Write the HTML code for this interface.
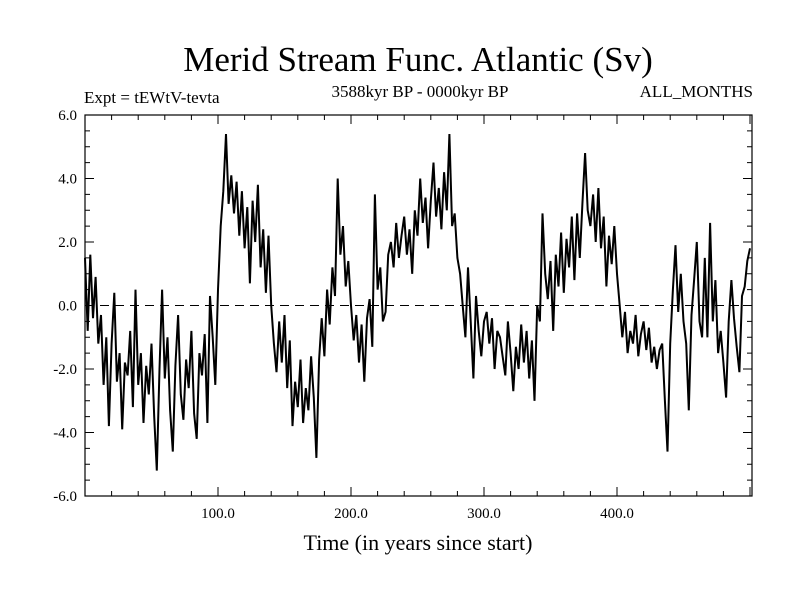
<!DOCTYPE html>
<html><head><meta charset="utf-8"><style>
body{margin:0;background:#fff}
svg text{font-family:"Liberation Serif",serif;fill:#000}
</style></head><body>
<svg id="chart" width="800" height="600" xmlns="http://www.w3.org/2000/svg">
<rect width="800" height="600" fill="#fff"/>
<text x="418" y="71" font-size="35" text-anchor="middle">Merid Stream Func. Atlantic (Sv)</text>
<text x="84" y="103" font-size="17">Expt = tEWtV-tevta</text>
<text x="420" y="97" font-size="17" text-anchor="middle">3588kyr BP - 0000kyr BP</text>
<text x="753" y="97" font-size="17" text-anchor="end">ALL_MONTHS</text>
<text x="418" y="550" font-size="22" text-anchor="middle">Time (in years since start)</text>
<g id="axes"></g>
<g id="plot"></g>
</svg>
<script>
const yTicks=[-6,-4,-2,0,2,4,6];
const yTickLabels=["-6.0","-4.0","-2.0","0.0","2.0","4.0","6.0"];
const xTicks=[100,200,300,400];
const xTickLabels=["100.0","200.0","300.0","400.0"];
const years=[];
const values=[
1.5,-0.8,1.6,-0.4,0.9,-1.2,-0.3,-2.5,-1.0,-3.8,
-1.2,0.4,-2.4,-1.5,-3.9,-1.8,-2.2,-0.8,-3.2,0.5,
-2.5,-1.5,-3.7,-1.9,-2.8,-1.2,-3.5,-5.2,-2.0,0.5,
-2.3,-1.0,-3.3,-4.6,-1.9,-0.3,-2.8,-3.6,-1.7,-2.6,
-0.8,-3.4,-4.2,-1.5,-2.2,-0.9,-3.7,0.3,-1.0,-2.5,
0.5,2.5,3.6,5.4,3.2,4.1,2.9,3.9,2.2,3.6,
1.8,3.1,0.7,3.3,2.0,3.8,1.2,2.4,0.4,2.2,
0.0,-1.2,-2.1,-0.5,-1.8,-0.3,-2.6,-1.1,-3.8,-2.4,
-3.2,-1.7,-3.7,-2.6,-3.3,-1.6,-2.9,-4.8,-1.7,-0.4,
-1.6,0.5,-0.6,1.2,0.3,4.0,1.6,2.5,0.6,1.4,
0.0,-1.1,-0.3,-1.8,-0.6,-2.4,-0.4,0.2,-1.3,3.5,
0.5,1.2,-0.5,-0.2,1.6,2.0,1.2,2.6,1.5,2.2,
2.8,1.6,2.4,1.0,3.0,2.2,4.0,2.6,3.4,1.8,
3.3,4.5,2.8,3.7,2.4,4.2,3.0,5.4,2.5,2.9,
1.5,1.0,0.0,-1.0,1.2,-0.5,-2.3,0.3,-0.8,-1.6,
-0.5,-0.2,-1.2,-0.4,-2.0,-0.8,-1.0,-1.6,-2.2,-0.5,
-1.5,-2.7,-1.3,-2.0,-0.6,-1.8,-0.8,-2.3,-1.1,-3.0,
0.0,-0.5,2.9,1.0,0.2,1.4,-0.8,1.6,0.6,2.3,
0.4,2.1,1.2,2.8,0.8,2.9,1.5,3.2,4.8,3.0,
2.5,3.5,2.0,3.7,1.8,2.8,0.6,2.2,1.3,2.5,
1.0,0.0,-1.0,-0.2,-1.5,-0.8,-1.2,-0.3,-1.6,-0.9,
-0.5,-1.4,-0.7,-1.8,-1.3,-2.0,-1.4,-1.2,-3.0,-4.6,
-1.2,0.5,1.9,-0.2,1.0,-0.5,-1.2,-3.3,-0.3,0.8,
2.0,-0.5,-1.0,1.5,-1.0,2.6,-0.5,0.8,-1.5,-0.8,
-1.8,-2.9,-0.5,0.8,-0.4,-1.3,-2.1,0.3,0.6,1.4,
1.8];
for(let i=0;i<values.length;i++) years.push(i*2);

const L=85,R=752,T=115,B=496;
const xMin=0,xMax=501.5,yMin=-6,yMax=6;
const xs=v=>L+(v-xMin)/(xMax-xMin)*(R-L);
const ys=v=>B-(v-yMin)/(yMax-yMin)*(B-T);
const NS="http://www.w3.org/2000/svg";
const axes=document.getElementById('axes'),plot=document.getElementById('plot');
function mk(tag,attrs,parent){const e=document.createElementNS(NS,tag);for(const k in attrs)e.setAttribute(k,attrs[k]);parent.appendChild(e);return e;}

const frame=mk('rect',{x:L,y:T,width:R-L,height:B-T,fill:'none',stroke:'#000','stroke-width':1.2},axes);



// minor y ticks
for(let v=yMin;v<=yMax+1e-9;v+=0.5){
  const y=ys(v);const major=Math.abs(v/2-Math.round(v/2))<1e-9;const len=major?9:5;
  const t1=mk('line',{x1:L,x2:L+len,y1:y,y2:y,stroke:'#000','stroke-width':1},axes);
  
  
  const t2=mk('line',{x1:R,x2:R-len,y1:y,y2:y,stroke:'#000','stroke-width':1},axes);
  
  
}
yTicks.forEach((v,i)=>{
  const t=mk('text',{x:L-8,y:ys(v)+5,'font-size':15,'text-anchor':'end'},axes);
  t.textContent=yTickLabels[i];
  
  
});
// x ticks
for(let v=20;v<xMax;v+=20){
  const x=xs(v);const major=v%100===0;const len=major?9:5;
  const t1=mk('line',{x1:x,x2:x,y1:B,y2:B-len,stroke:'#000','stroke-width':1},axes);
  
  
  const t2=mk('line',{x1:x,x2:x,y1:T,y2:T+len,stroke:'#000','stroke-width':1},axes);
  
  
}
xTicks.forEach((v,i)=>{
  const t=mk('text',{x:xs(v),y:B+22,'font-size':15,'text-anchor':'middle'},axes);
  t.textContent=xTickLabels[i];
  
  
});
const zero=mk('line',{x1:L,x2:R,y1:ys(0),y2:ys(0),stroke:'#000','stroke-width':1,'stroke-dasharray':'9,6'},plot);


const d=values.map((v,i)=>(i?'L':'M')+xs(years[i]).toFixed(1)+','+ys(v).toFixed(1)).join('');
const line=mk('path',{d:d,fill:'none',stroke:'#000','stroke-width':2,'stroke-linejoin':'miter'},plot);


</script>
</body></html>
